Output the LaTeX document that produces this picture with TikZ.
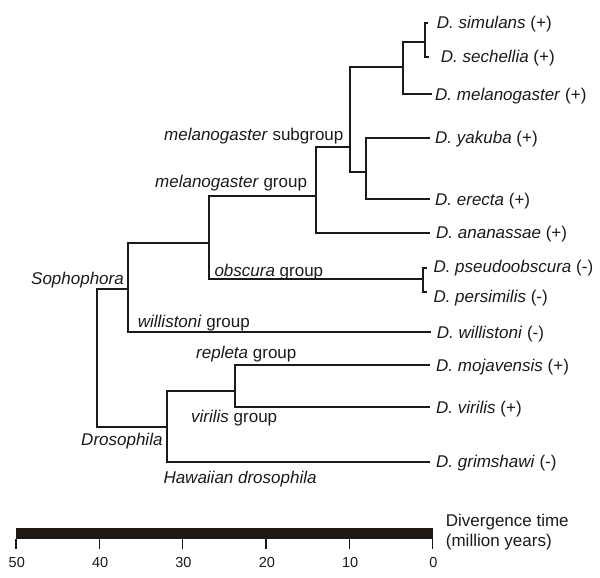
\documentclass[tikz,border=0pt]{standalone}
\usepackage{fontspec}
\setmainfont{Liberation Sans}
\definecolor{ink}{HTML}{1A1A1A}
\definecolor{barcol}{HTML}{1E1712}
\begin{document}
\begin{tikzpicture}[x=1pt,y=-1pt,
  branch/.style={line width=2.2pt, draw=ink, line join=miter},
  leaf/.style={anchor=west, inner sep=0pt, text height=12.2pt, text depth=0pt, text=ink, font=\fontsize{17}{20}\selectfont},
  grplbl/.style={inner sep=0pt, text height=12.2pt, text depth=0pt, text=ink, font=\fontsize{17}{20}\selectfont},
  tickmark/.style={line width=1.5pt, draw=ink},
  ticklbl/.style={inner sep=0pt, text height=10.4pt, text depth=0pt, text=ink, font=\fontsize{14.5}{17}\selectfont}]
\useasboundingbox (0,0) rectangle (600,578);

% tips
\coordinate (tSim) at (428,22.7);
\coordinate (tSech) at (429,56.7);
\coordinate (tMel) at (431.7,94.3);
\coordinate (tYak) at (430,137.7);
\coordinate (tEre) at (430,199.3);
\coordinate (tAna) at (430,232.7);
\coordinate (tPse) at (427,267.7);
\coordinate (tPer) at (427,291.7);
\coordinate (tWil) at (430.7,332.3);
\coordinate (tMoj) at (430,365);
\coordinate (tVir) at (430,407.3);
\coordinate (tGri) at (430,461.7);
% internal nodes
\coordinate (nSS) at (425,42.3);
\coordinate (nSSM) at (402.7,66.7);
\coordinate (nYE) at (365.7,172.3);
\coordinate (nSub) at (350,146.7);
\coordinate (nMG) at (316,195.7);
\coordinate (nPP) at (422.7,279.3);
\coordinate (nMO) at (209,243.3);
\coordinate (nSoph) at (128.3,289.3);
\coordinate (nRV) at (235,391);
\coordinate (nDros) at (167.3,427);
\coordinate (nRoot) at (96.7,360);

% branches
\draw[branch] (tSim) -| (nSS) |- (tSech);
\draw[branch] (nSS) -| (nSSM) |- (tMel);
\draw[branch] (tYak) -| (nYE) |- (tEre);
\draw[branch] (nSSM) -| (nSub) |- (nYE);
\draw[branch] (nSub) -| (nMG) |- (tAna);
\draw[branch] (tPse) -| (nPP) |- (tPer);
\draw[branch] (nMG) -| (nMO) |- (nPP);
\draw[branch] (nMO) -| (nSoph) |- (tWil);
\draw[branch] (tMoj) -| (nRV) |- (tVir);
\draw[branch] (nRV) -| (nDros) |- (tGri);
\draw[branch] (nSoph) -| (nRoot) |- (nDros);

% leaf labels
\node[leaf] (lSim) at (436.7,22.7) {\textit{D. simulans} (+)};
\node[leaf] (lSech) at (440.7,56.7) {\textit{D. sechellia} (+)};
\node[leaf] (lMel) at (435,94.3) {\textit{D. melanogaster} (+)};
\node[leaf] (lYak) at (435,137.7) {\textit{D. yakuba} (+)};
\node[leaf] (lEre) at (435,199.3) {\textit{D. erecta} (+)};
\node[leaf] (lAna) at (436,232.7) {\textit{D. ananassae} (+)};
\node[leaf] (lPse) at (433.3,266.5) {\textit{D. pseudoobscura} (-)};
\node[leaf] (lPer) at (433.3,296) {\textit{D. persimilis} (-)};
\node[leaf] (lWil) at (436.7,332.3) {\textit{D. willistoni} (-)};
\node[leaf] (lMoj) at (436,365) {\textit{D. mojavensis} (+)};
\node[leaf] (lVir) at (436,407.3) {\textit{D. virilis} (+)};
\node[leaf] (lGri) at (436,461.7) {\textit{D. grimshawi} (-)};

% group labels
\node[grplbl, anchor=east] (gSoph) at (124,278) {\textit{Sophophora}};
\node[grplbl, anchor=west] (gSub) at (164,134) {\textit{melanogaster} subgroup};
\node[grplbl, anchor=west] (gMG) at (155,181.7) {\textit{melanogaster} group};
\node[grplbl, anchor=west] (gObs) at (214.3,270) {\textit{obscura} group};
\node[grplbl, anchor=west] (gWil) at (137.7,321.7) {\textit{willistoni} group};
\node[grplbl, anchor=west] (gRep) at (196,352.7) {\textit{repleta} group};
\node[grplbl, anchor=west] (gVir) at (191,416.7) {\textit{virilis} group};
\node[grplbl, anchor=east] (gDros) at (162.7,439.3) {\textit{Drosophila}};
\node[grplbl, anchor=west] (gHaw) at (163.3,477.3) {\textit{Hawaiian drosophila}};

% scale bar
\fill[barcol] (15.7,528.3) rectangle (433.3,539);
\foreach \v in {50,40,30,20,10,0} {
  \coordinate (tk\v) at ({432.7-8.334*\v},539);
  \coordinate (tb\v) at ({432.7-8.334*\v},549);
  \draw[tickmark] (tk\v) -- (tb\v);
  \node[ticklbl] (tl\v) at ({433.5-8.334*\v},562.7) {\v};
}
\node[grplbl, anchor=west] (dvt) at (445.7,520) {Divergence time};
\node[grplbl, anchor=west] (dvu) at (445.7,540) {(million years)};
\end{tikzpicture}
\end{document}
